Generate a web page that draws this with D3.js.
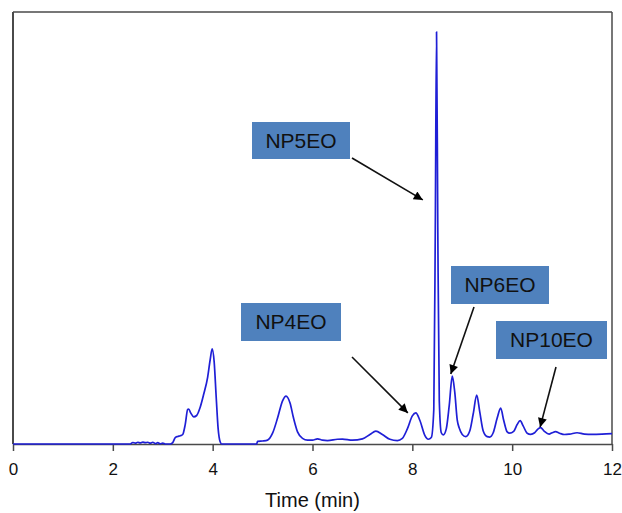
<!DOCTYPE html>
<html>
<head>
<meta charset="utf-8">
<script src="https://cdn.jsdelivr.net/npm/d3@7/dist/d3.min.js"></script>
<style>
  html, body { margin: 0; padding: 0; background: #ffffff; }
  svg { display: block; font-family: "Liberation Sans", Arial, sans-serif; }
</style>
</head>
<body>
<svg id="chart" width="622" height="513"></svg>
<script>
// Chromatogram trace: retention time (min) and detector signal (relative units)
const times = [
  0.00, 2.35, 2.40, 2.45, 2.50, 2.55, 2.60, 2.65, 2.70, 2.75, 2.80, 2.85, 2.90, 2.95, 3.00, 3.05,
  3.15, 3.20, 3.25, 3.30, 3.35, 3.40, 3.45, 3.50, 3.52, 3.56, 3.62, 3.68, 3.75, 3.82, 3.90, 3.95,
  3.99, 4.03, 4.07, 4.11, 4.15, 4.18, 4.88, 4.90, 5.00, 5.10, 5.20, 5.30, 5.40, 5.47, 5.55, 5.62,
  5.70, 5.80, 5.90, 6.00, 6.10, 6.20, 6.30, 6.50, 6.60, 6.80, 7.00, 7.15, 7.27, 7.40, 7.55, 7.70,
  7.80, 7.90, 8.00, 8.07, 8.15, 8.25, 8.32, 8.38, 8.43, 8.46, 8.485, 8.51, 8.54, 8.58, 8.62, 8.68,
  8.74, 8.80, 8.85, 8.90, 8.94, 9.00, 9.07, 9.15, 9.22, 9.29, 9.35, 9.42, 9.50, 9.55, 9.62, 9.70,
  9.77, 9.83, 9.90, 9.95, 10.03, 10.10, 10.16, 10.22, 10.30, 10.37, 10.45, 10.52, 10.57, 10.64,
  10.74, 10.80, 10.87, 10.95, 11.05, 11.15, 11.30, 11.45, 11.60, 11.80, 12.00
];
const signal = [
  0.0, 0.0, 0.35, 0.2, 0.4, 0.25, 0.45, 0.3, 0.4, 0.2, 0.4, 0.1, 0.3, 0.05, 0.2, 0.0,
  0.0, 0.3, 1.5, 1.75, 1.9, 2.2, 4.5, 8.0, 8.1, 7.2, 6.3, 6.6, 8.5, 11.5, 15.5, 19.5,
  22.0, 19.0, 11.0, 3.5, 0.5, 0.0, 0.0, 0.6, 0.7, 0.9, 2.5, 6.0, 10.0, 11.1, 9.5, 6.0,
  2.8, 1.3, 0.9, 0.9, 1.2, 0.9, 0.8, 1.1, 1.15, 0.9, 1.2, 2.2, 3.0, 2.2, 1.1, 0.8,
  1.3, 3.5, 6.5, 7.2, 5.5, 2.0, 1.1, 1.5, 8.0, 50.0, 95.4, 50.0, 10.0, 2.6, 2.1, 3.5,
  9.0, 15.7, 12.0, 5.5, 3.7, 2.2, 1.7, 3.0, 7.0, 11.3, 7.5, 3.0, 1.7, 1.6, 2.6, 6.0,
  8.3, 5.5, 2.8, 2.5, 2.9, 4.5, 5.4, 4.2, 2.5, 2.25, 2.6, 3.5, 3.8, 3.0,
  2.3, 2.6, 2.85, 2.5, 2.2, 2.3, 2.6, 2.3, 2.25, 2.3, 2.4
];

// X axis ticks
const xTicks = [0, 2, 4, 6, 8, 10, 12];
const xTitle = "Time (min)";

// Annotated peaks: label text and the point (time, signal) each arrow indicates
const peakNames   = ["NP5EO", "NP4EO", "NP6EO", "NP10EO"];
const peakTimes   = [8.21, 7.91, 8.77, 10.56];
const peakSignals = [56.5, 7.2, 16.2, 3.9];

// Callout box layout (pixels): box left/top/width/height and arrow start point
const calloutLayout = [
  { x: 252, y: 122, w: 98,  h: 37, sx: 352, sy: 158 },
  { x: 241, y: 303, w: 100, h: 38, sx: 352, sy: 357 },
  { x: 451, y: 266, w: 98,  h: 38, sx: 474, sy: 307 },
  { x: 496, y: 321, w: 111, h: 38, sx: 556, sy: 367 }
];

const svg = d3.select("#chart");
const plot = { left: 13, right: 612, top: 12, bottom: 444 };

const x = d3.scaleLinear().domain([0, 12]).range([plot.left, plot.right]);
const y = d3.scaleLinear().domain([0, 100]).range([plot.bottom, plot.top]);

// Frame around the plotting area
const frameColor = "#4a4a4a";
svg.append("line").attr("x1", plot.left).attr("x2", plot.right)
  .attr("y1", plot.top).attr("y2", plot.top)
  .attr("stroke", frameColor).attr("stroke-width", 1.5);
svg.append("line").attr("x1", plot.left).attr("x2", plot.left)
  .attr("y1", plot.top).attr("y2", plot.bottom)
  .attr("stroke", frameColor).attr("stroke-width", 2);
svg.append("line").attr("x1", plot.right).attr("x2", plot.right)
  .attr("y1", plot.top).attr("y2", plot.bottom)
  .attr("stroke", frameColor).attr("stroke-width", 1.5);

// Bottom axis with outward ticks
const xAxis = d3.axisBottom(x).tickValues(xTicks).tickFormat(d3.format("d"))
  .tickSize(7).tickSizeOuter(0).tickPadding(12);
const gx = svg.append("g").attr("transform", `translate(0,${plot.bottom})`).call(xAxis);
gx.select(".domain").attr("stroke", frameColor).attr("stroke-width", 1.5);
gx.selectAll(".tick line").attr("stroke", frameColor).attr("stroke-width", 1.5);
gx.selectAll(".tick text")
  .attr("fill", "#111")
  .style("font-size", "17px")
  .style("font-family", "'Liberation Sans', Arial, sans-serif");

svg.append("text")
  .attr("x", x(6))
  .attr("y", 507)
  .attr("text-anchor", "middle")
  .attr("fill", "#111")
  .style("font-size", "20px")
  .text(xTitle);

// Chromatogram trace
const trace = times.map((t, i) => [t, signal[i]]);
const line = d3.line()
  .x(d => x(d[0]))
  .y(d => y(d[1]))
  .curve(d3.curveMonotoneX);

svg.append("path")
  .datum(trace)
  .attr("fill", "none")
  .attr("stroke", "#1f1fd6")
  .attr("stroke-width", 1.7)
  .attr("stroke-linejoin", "round")
  .attr("d", line);

// Arrowhead marker
svg.append("defs").append("marker")
  .attr("id", "arrowhead")
  .attr("viewBox", "0 0 10 10")
  .attr("refX", 10).attr("refY", 5)
  .attr("markerWidth", 11).attr("markerHeight", 9)
  .attr("markerUnits", "userSpaceOnUse")
  .attr("orient", "auto")
  .append("path")
  .attr("d", "M0,0 L10,5 L0,10 Z")
  .attr("fill", "#000");

// Callouts: blue label boxes with arrows to the peaks
const callouts = peakNames.map((name, i) => ({
  name, t: peakTimes[i], s: peakSignals[i], ...calloutLayout[i]
}));

const g = svg.append("g").selectAll("g").data(callouts).join("g");

g.append("line")
  .attr("x1", d => d.sx).attr("y1", d => d.sy)
  .attr("x2", d => x(d.t)).attr("y2", d => y(d.s))
  .attr("stroke", "#111").attr("stroke-width", 1.6)
  .attr("marker-end", "url(#arrowhead)");

g.append("rect")
  .attr("x", d => d.x).attr("y", d => d.y)
  .attr("width", d => d.w).attr("height", d => d.h)
  .attr("fill", "#4f81bd");

g.append("text")
  .attr("x", d => d.x + d.w / 2)
  .attr("y", d => d.y + d.h / 2 + 7)
  .attr("text-anchor", "middle")
  .attr("fill", "#111")
  .style("font-size", "21px")
  .text(d => d.name);
</script>
</body>
</html>
